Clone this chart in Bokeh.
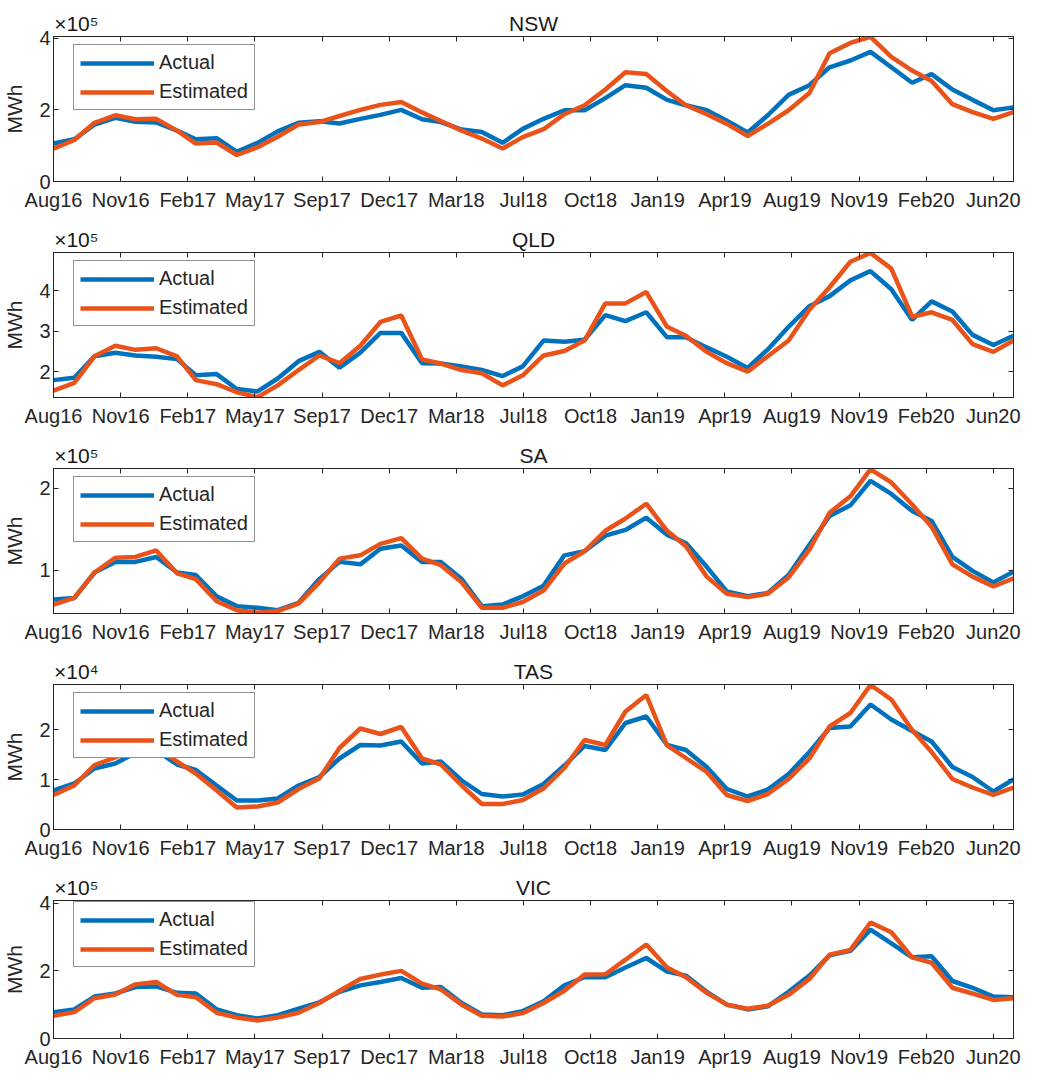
import pandas as pd
from bokeh.plotting import figure
from bokeh.models import Range1d, FixedTicker, LinearAxis, Legend, LegendItem
from bokeh.layouts import column
from bokeh.embed import file_html
from bokeh.resources import INLINE

# ---------------- data ----------------
months = pd.date_range("2016-08-01", "2020-07-01", freq="MS")
x_days = [int(d) for d in (months - months[0]).days]   # days since Aug 2016

tick_days = list(range(0, 1401, 100))
tick_labels = ["Aug16", "Nov16", "Feb17", "May17", "Sep17", "Dec17", "Mar18",
               "Jul18", "Oct18", "Jan19", "Apr19", "Aug19", "Nov19", "Feb20", "Jun20"]

regions = ["NSW", "QLD", "SA", "TAS", "VIC"]
exponents = [5, 5, 5, 4, 5]            # values below are in units of 10^exponent MWh
exponent_labels = ["×10⁵", "×10⁵", "×10⁵", "×10⁴", "×10⁵"]
y_limits = [(0, 4.05), (1.36, 4.95), (0.47, 2.24), (0, 2.9), (0, 4.08)]
y_ticks = [[0, 2, 4], [2, 3, 4], [1, 2], [0, 1, 2], [0, 2, 4]]

nsw_actual = [1.06, 1.18, 1.59, 1.78, 1.67, 1.65, 1.42, 1.18, 1.21, 0.83, 1.08, 1.40,
              1.64, 1.68, 1.62, 1.75, 1.86, 2.00, 1.74, 1.66, 1.45, 1.38, 1.08, 1.47,
              1.75, 1.99, 1.99, 2.33, 2.69, 2.62, 2.28, 2.13, 1.99, 1.70, 1.37, 1.85,
              2.42, 2.69, 3.19, 3.38, 3.62, 3.19, 2.76, 3.00, 2.57, 2.28, 1.99, 2.07]
nsw_estimated = [0.92, 1.16, 1.64, 1.85, 1.74, 1.75, 1.42, 1.06, 1.09, 0.74, 0.96, 1.25,
                 1.59, 1.66, 1.83, 2.00, 2.14, 2.22, 1.93, 1.69, 1.42, 1.20, 0.92, 1.24,
                 1.46, 1.88, 2.13, 2.57, 3.05, 3.00, 2.52, 2.13, 1.88, 1.61, 1.27, 1.61,
                 1.99, 2.47, 3.58, 3.87, 4.04, 3.48, 3.10, 2.81, 2.16, 1.94, 1.75, 1.94]

qld_actual = [1.79, 1.85, 2.38, 2.47, 2.40, 2.37, 2.31, 1.91, 1.94, 1.57, 1.51, 1.83,
              2.26, 2.49, 2.10, 2.47, 2.96, 2.96, 2.21, 2.20, 2.13, 2.04, 1.89, 2.13,
              2.77, 2.74, 2.79, 3.40, 3.25, 3.47, 2.85, 2.85, 2.60, 2.37, 2.09, 2.55,
              3.11, 3.62, 3.87, 4.26, 4.49, 4.04, 3.28, 3.74, 3.49, 2.91, 2.66, 2.89]
qld_estimated = [1.53, 1.72, 2.38, 2.64, 2.54, 2.58, 2.38, 1.79, 1.69, 1.49, 1.37, 1.66,
                 2.04, 2.40, 2.21, 2.64, 3.23, 3.39, 2.30, 2.20, 2.04, 1.96, 1.66, 1.91,
                 2.40, 2.51, 2.77, 3.69, 3.69, 3.97, 3.11, 2.89, 2.49, 2.21, 2.00, 2.38,
                 2.77, 3.53, 4.09, 4.72, 4.94, 4.55, 3.36, 3.47, 3.28, 2.68, 2.49, 2.77]

sa_actual = [0.64, 0.66, 0.97, 1.10, 1.10, 1.16, 0.97, 0.94, 0.68, 0.56, 0.54, 0.51,
             0.60, 0.89, 1.10, 1.07, 1.26, 1.30, 1.10, 1.10, 0.89, 0.56, 0.58, 0.68,
             0.81, 1.18, 1.23, 1.42, 1.49, 1.64, 1.43, 1.33, 1.04, 0.74, 0.68, 0.72,
             0.94, 1.31, 1.66, 1.79, 2.09, 1.93, 1.72, 1.60, 1.16, 0.99, 0.85, 0.98]
sa_estimated = [0.58, 0.66, 0.97, 1.15, 1.16, 1.24, 0.96, 0.89, 0.62, 0.51, 0.48, 0.50,
                0.59, 0.85, 1.14, 1.18, 1.32, 1.39, 1.14, 1.06, 0.85, 0.54, 0.54, 0.61,
                0.75, 1.08, 1.23, 1.48, 1.63, 1.81, 1.48, 1.29, 0.92, 0.71, 0.67, 0.71,
                0.91, 1.25, 1.70, 1.90, 2.23, 2.07, 1.80, 1.53, 1.07, 0.92, 0.80, 0.90]

tas_actual = [0.78, 0.92, 1.22, 1.32, 1.53, 1.58, 1.30, 1.19, 0.88, 0.58, 0.58, 0.62,
              0.88, 1.05, 1.42, 1.69, 1.68, 1.76, 1.32, 1.36, 0.98, 0.71, 0.66, 0.70,
              0.91, 1.28, 1.67, 1.59, 2.13, 2.26, 1.69, 1.59, 1.25, 0.81, 0.66, 0.80,
              1.11, 1.55, 2.03, 2.06, 2.50, 2.20, 1.97, 1.76, 1.25, 1.05, 0.76, 1.00]
tas_estimated = [0.69, 0.88, 1.29, 1.44, 1.59, 1.65, 1.36, 1.12, 0.78, 0.44, 0.46, 0.54,
                 0.81, 1.02, 1.63, 2.02, 1.91, 2.05, 1.42, 1.30, 0.88, 0.51, 0.51, 0.59,
                 0.82, 1.23, 1.79, 1.69, 2.36, 2.69, 1.68, 1.43, 1.15, 0.69, 0.57, 0.71,
                 1.01, 1.42, 2.06, 2.33, 2.89, 2.60, 1.99, 1.55, 1.01, 0.84, 0.69, 0.84]

vic_actual = [0.78, 0.86, 1.24, 1.33, 1.52, 1.54, 1.35, 1.33, 0.86, 0.69, 0.59, 0.69,
              0.88, 1.07, 1.38, 1.57, 1.67, 1.79, 1.50, 1.52, 1.05, 0.71, 0.69, 0.81,
              1.10, 1.57, 1.81, 1.81, 2.10, 2.38, 1.98, 1.86, 1.38, 1.00, 0.86, 0.95,
              1.38, 1.86, 2.46, 2.59, 3.22, 2.81, 2.40, 2.43, 1.70, 1.50, 1.24, 1.22]
vic_estimated = [0.67, 0.78, 1.19, 1.30, 1.60, 1.67, 1.29, 1.22, 0.76, 0.62, 0.53, 0.62,
                 0.76, 1.05, 1.41, 1.76, 1.89, 2.00, 1.62, 1.45, 1.00, 0.67, 0.65, 0.75,
                 1.05, 1.41, 1.89, 1.90, 2.33, 2.78, 2.10, 1.81, 1.35, 1.00, 0.88, 0.97,
                 1.29, 1.76, 2.48, 2.62, 3.43, 3.14, 2.40, 2.24, 1.50, 1.33, 1.14, 1.19]

actual_series = [nsw_actual, qld_actual, sa_actual, tas_actual, vic_actual]
estimated_series = [nsw_estimated, qld_estimated, sa_estimated, tas_estimated, vic_estimated]

# ---------------- style ----------------
FONT = "Liberation Sans"
BLUE = "#0072BD"
ORANGE = "#E9531A"
AX = "#262626"
W = 1021
BORDER_L = 49
BORDER_R = 8
FRAME_H = 145
TOP_B = 36
BOT_B = 35
BOT_B_LAST = 25
EXP_POS = 34       # x (days) where the centred exponent text sits, next to the frame's left edge


def style_axis(ax, show_labels=True):
    ax.major_tick_in = 5
    ax.major_tick_out = 0
    ax.minor_tick_line_color = None
    ax.axis_line_color = AX
    ax.major_tick_line_color = AX
    ax.major_label_text_font = FONT
    if show_labels:
        ax.major_label_text_font_size = "20px"
        ax.major_label_text_color = AX
    else:
        ax.major_label_text_font_size = "0px"
        ax.major_label_text_color = None
        ax.major_label_standoff = 0


def make_panel(i, last):
    exp = exponents[i]
    scale = 10 ** exp
    lo, hi = y_limits[i]
    act = [v * scale for v in actual_series[i]]
    est = [v * scale for v in estimated_series[i]]
    yt = [int(round(t * scale)) for t in y_ticks[i]]

    bot_b = BOT_B_LAST if last else BOT_B
    p = figure(width=W, height=TOP_B + FRAME_H + bot_b,
               x_range=Range1d(x_days[0], x_days[-1]),
               y_range=Range1d(lo * scale, hi * scale),
               output_backend="svg", toolbar_location=None,
               min_border_left=BORDER_L, min_border_right=BORDER_R,
               min_border_top=TOP_B, min_border_bottom=bot_b)
    p.grid.visible = False
    p.outline_line_color = AX
    p.outline_line_width = 1
    p.background_fill_color = "white"
    p.border_fill_color = "white"

    xa = p.xaxis[0]
    xa.ticker = FixedTicker(ticks=tick_days)
    xa.major_label_overrides = dict(zip(tick_days, tick_labels))
    xa.major_label_standoff = 7
    style_axis(xa)

    ya = p.yaxis[0]
    ya.ticker = FixedTicker(ticks=yt)
    ya.major_label_overrides = {t: f"{v:g}" for t, v in zip(yt, y_ticks[i])}
    ya.major_label_standoff = 3
    ya.axis_label = "MWh"
    ya.axis_label_text_font = FONT
    ya.axis_label_text_font_size = "21px"
    ya.axis_label_text_font_style = "normal"
    ya.axis_label_text_color = AX
    ya.axis_label_standoff = 10
    style_axis(ya)

    # box ticks on top and right
    top_ax = LinearAxis(ticker=FixedTicker(ticks=tick_days))
    style_axis(top_ax, show_labels=False)
    p.add_layout(top_ax, "above")
    right_ax = LinearAxis(ticker=FixedTicker(ticks=yt))
    style_axis(right_ax, show_labels=False)
    p.add_layout(right_ax, "right")

    # header row: exponent at the left, region name in the middle
    mid = (x_days[0] + x_days[-1]) // 2
    head_ax = LinearAxis(ticker=FixedTicker(ticks=[EXP_POS, mid]))
    head_ax.major_label_overrides = {EXP_POS: exponent_labels[i], mid: regions[i]}
    head_ax.axis_line_color = None
    head_ax.major_tick_line_color = None
    head_ax.minor_tick_line_color = None
    head_ax.major_tick_out = 0
    head_ax.major_tick_in = 0
    head_ax.major_label_standoff = 2
    head_ax.major_label_text_font = FONT
    head_ax.major_label_text_font_size = "21px"
    head_ax.major_label_text_color = "#1a1a1a"
    p.add_layout(head_ax, "above")

    r1 = p.line(x_days, act, line_color=BLUE, line_width=4.5)
    r2 = p.line(x_days, est, line_color=ORANGE, line_width=4.5)

    legend = Legend(items=[LegendItem(label="Actual", renderers=[r1]),
                           LegendItem(label="Estimated", renderers=[r2])],
                    location=(20, FRAME_H - 12 - 62))
    legend.border_line_color = AX
    legend.border_line_width = 1
    legend.background_fill_color = "white"
    legend.background_fill_alpha = 1
    legend.label_text_font = FONT
    legend.label_text_font_size = "20px"
    legend.label_text_color = AX
    legend.glyph_width = 74
    legend.glyph_height = 22
    legend.label_height = 22
    legend.label_standoff = 5
    legend.padding = 6
    legend.spacing = 6
    legend.margin = 0
    p.add_layout(legend)
    return p


panels = [make_panel(i, i == len(regions) - 1) for i in range(len(regions))]
layout = column(*panels, spacing=0)

open("out.html", "w").write(file_html(layout, INLINE))
